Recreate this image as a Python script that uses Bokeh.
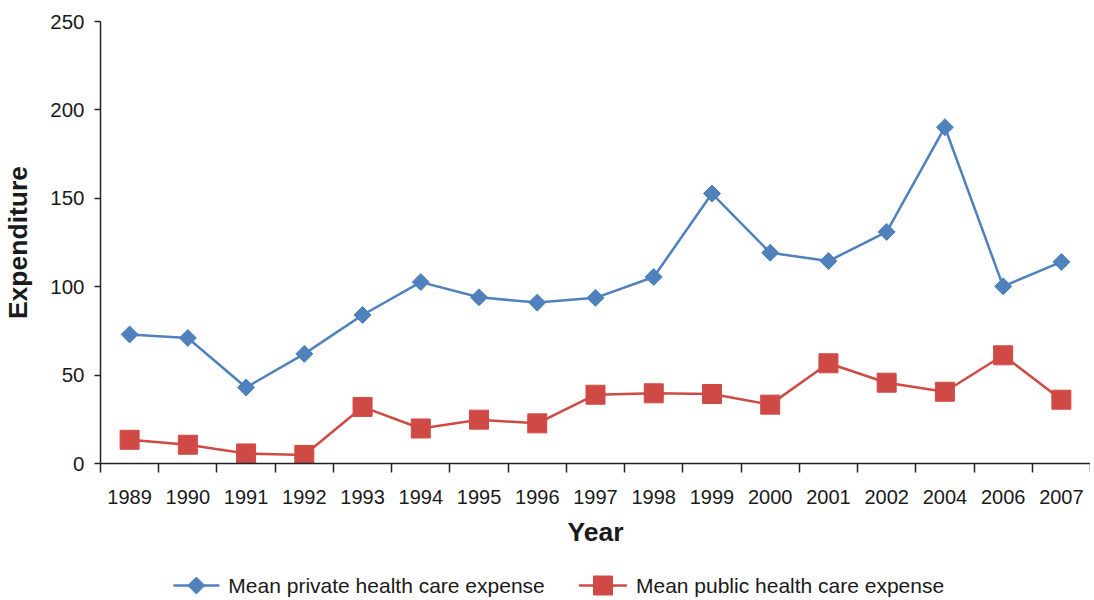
from bokeh.plotting import figure
from bokeh.layouts import column
from bokeh.models import FixedTicker, Range1d, ColumnDataSource
from bokeh.core.properties import value
from bokeh.embed import file_html
from bokeh.resources import INLINE

years = ["1989", "1990", "1991", "1992", "1993", "1994", "1995", "1996", "1997",
         "1998", "1999", "2000", "2001", "2002", "2004", "2006", "2007"]
private = [73, 71, 43, 62, 84, 102.6, 94, 91, 93.7, 105.5, 152.7, 119.2, 114.5, 131, 190.2, 100.2, 114]
public = [13.4, 10.6, 5.7, 4.8, 32, 19.8, 24.8, 22.7, 38.9, 39.7, 39.3, 33.3, 56.7, 45.7, 40.6, 61.2, 36.1]
series_names = ["Mean private health care expense", "Mean public health care expense"]

BLUE = "#4F81BD"
RED = "#D04A45"
FONT = "Liberation Sans"
TXT = "#1a1a1a"

xpos = [i + 0.5 for i in range(len(years))]
src = ColumnDataSource(dict(x=xpos, private=private, public=public))

p = figure(width=1090, height=549, x_range=Range1d(0, len(years)), y_range=Range1d(0, 250),
           output_backend="svg", toolbar_location=None,
           min_border_left=99, min_border_top=21, min_border_right=0, min_border_bottom=80)
p.outline_line_color = None
p.xgrid.visible = False
p.ygrid.visible = False

p.line("x", "private", source=src, line_color=BLUE, line_width=2.5)
p.scatter("x", "private", source=src, marker="square", angle=0.7854, size=12,
          fill_color=BLUE, line_color=BLUE)
p.line("x", "public", source=src, line_color=RED, line_width=2.5)
p.scatter("x", "public", source=src, marker="square", size=19, fill_color=RED, line_color=RED)

# x axis: labels at category centres, tick marks at category boundaries
xa = p.xaxis[0]
xa.ticker = FixedTicker(ticks=xpos, minor_ticks=list(range(len(years) + 1)))
xa.major_label_overrides = {x: y for x, y in zip(xpos, years)}
xa.major_tick_out = 0
xa.major_tick_in = 0
xa.minor_tick_out = 9
xa.minor_tick_in = 0
xa.major_label_standoff = 17
xa.major_label_text_font = FONT
xa.major_label_text_font_size = "20px"
xa.major_label_text_color = TXT
xa.axis_label = "Year"
xa.axis_label_text_font = FONT
xa.axis_label_text_font_size = "26.5px"
xa.axis_label_text_font_style = "bold"
xa.axis_label_text_color = TXT
xa.axis_label_standoff = 10
xa.axis_line_color = "#222222"
xa.axis_line_width = 1.5
xa.minor_tick_line_color = "#222222"
xa.minor_tick_line_width = 1.5

ya = p.yaxis[0]
ya.ticker = FixedTicker(ticks=[0, 50, 100, 150, 200, 250])
ya.major_tick_out = 6
ya.major_tick_in = 0
ya.minor_tick_out = 0
ya.minor_tick_in = 0
ya.major_label_standoff = 10
ya.major_label_text_font = FONT
ya.major_label_text_font_size = "20.5px"
ya.major_label_text_color = TXT
ya.axis_label = "Expenditure"
ya.axis_label_text_font = FONT
ya.axis_label_text_font_size = "26.5px"
ya.axis_label_text_font_style = "bold"
ya.axis_label_text_color = TXT
ya.axis_label_standoff = 14
ya.axis_line_color = "#222222"
ya.axis_line_width = 1.5
ya.major_tick_line_color = "#222222"
ya.major_tick_line_width = 1.5

# legend strip below the chart (screen-unit ranges: 1 unit = 1 px)
lf = figure(width=1090, height=49, x_range=Range1d(0, 991), y_range=Range1d(0, 49),
            output_backend="svg", toolbar_location=None,
            min_border_left=99, min_border_right=0, min_border_top=0, min_border_bottom=0)
lf.axis.visible = False
lf.grid.visible = False
lf.outline_line_color = None

LY = 13                      # legend row centre
ITEM1_X, ITEM2_X = 73, 479   # left edge of each legend glyph
GW = 46                      # glyph width
lf.segment(x0=[ITEM1_X, ITEM2_X], y0=[LY, LY], x1=[ITEM1_X + GW, ITEM2_X + GW + 2], y1=[LY, LY],
           line_color=[BLUE, RED], line_width=2.5)
lf.scatter(x=[ITEM1_X + GW / 2], y=[LY], marker="square", angle=0.7854, size=12,
           fill_color=BLUE, line_color=BLUE)
lf.scatter(x=[ITEM2_X + GW / 2 + 1], y=[LY], marker="square", size=19,
           fill_color=RED, line_color=RED)
lf.text(x=[ITEM1_X + GW + 9, ITEM2_X + GW + 11], y=[LY, LY], text=series_names,
        text_font=value(FONT), text_font_size="21px", text_color=TXT,
        text_align="left", text_baseline="middle")

layout = column(p, lf, spacing=0)
open("out.html", "w").write(file_html(layout, INLINE))
